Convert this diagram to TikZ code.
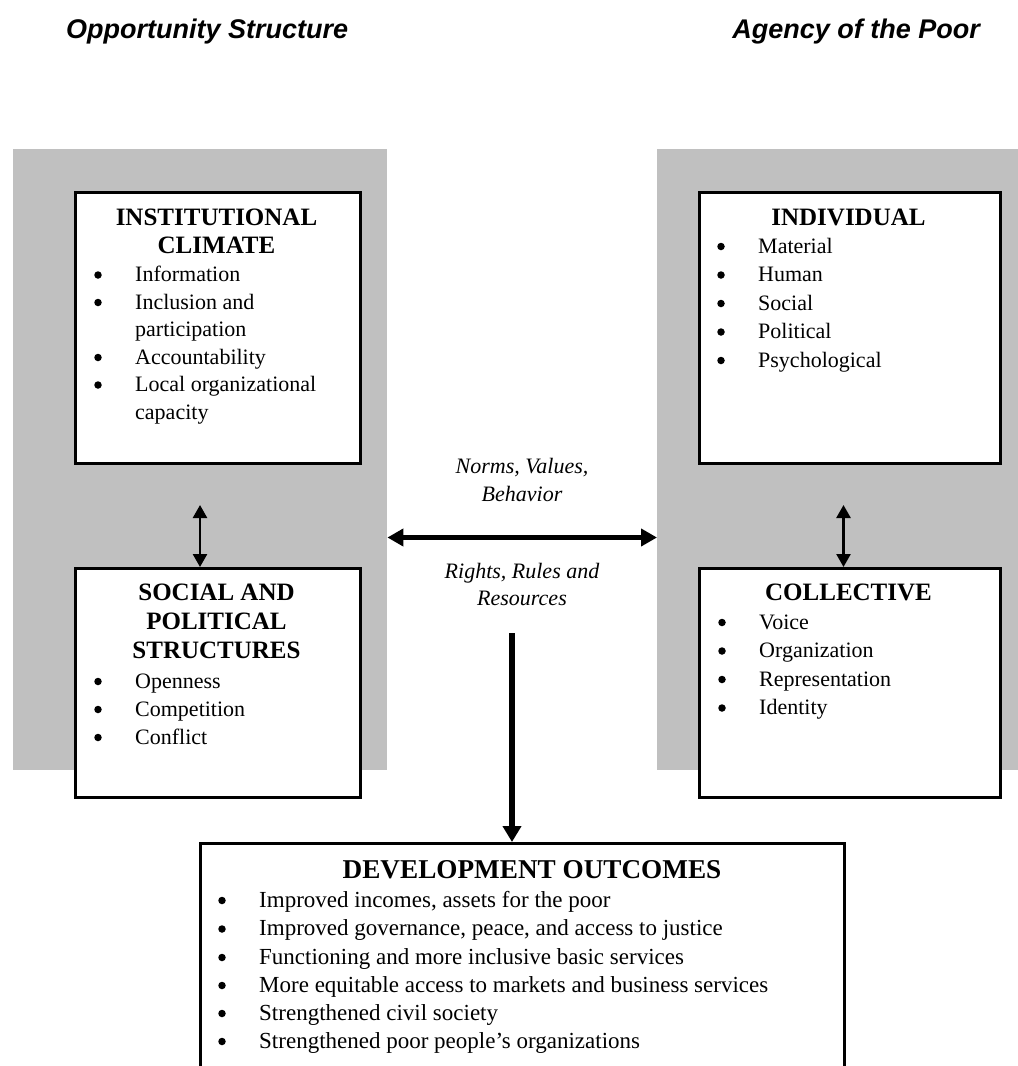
\documentclass[tikz,border=0pt]{standalone}
\usepackage{fontspec}
\setmainfont{Liberation Serif}
\newfontfamily\hdrfont{Liberation Sans}
\usetikzlibrary{arrows.meta}
\definecolor{panelgray}{RGB}{192,192,192}
\tikzset{
  panel/.style={fill=panelgray, draw=none, inner sep=0pt, anchor=north west},
  box/.style={fill=white, draw=black, line width=2.5bp, inner sep=0pt, anchor=north west},
  hdr/.style={inner sep=0pt, font=\hdrfont\bfseries\itshape\fontsize{27bp}{30bp}\selectfont},
  ttl/.style={inner sep=0pt, anchor=base, font=\bfseries\fontsize{25bp}{28bp}\selectfont},
  bigttl/.style={inner sep=0pt, anchor=base, font=\bfseries\fontsize{27.2bp}{30bp}\selectfont},
  itm/.style={inner sep=0pt, anchor=base west, font=\fontsize{22bp}{28bp}\selectfont},
  bigitm/.style={inner sep=0pt, anchor=base west, font=\fontsize{23bp}{28bp}\selectfont},
  bul/.style={circle, fill=black, draw=none, inner sep=0pt, minimum size=7.5bp},
  mid/.style={inner sep=0pt, anchor=base, font=\itshape\fontsize{22bp}{28bp}\selectfont},
  dbl/.style={line width=2.5bp, {Triangle[length=13bp,width=14bp]}-{Triangle[length=13bp,width=14bp]}},
  hbl/.style={line width=5bp, {Triangle[length=16bp,width=17bp]}-{Triangle[length=16bp,width=17bp]}},
  down/.style={line width=6bp, -{Triangle[length=16bp,width=18bp]}}
}
% bulleted item: style, name, position, text
\newcommand\bitem[4]{%
  \node[#1] (#2) at (#3) {#4};
  \node[bul] (#2b) at ([xshift=-37bp,yshift=6.5bp]#2.base west) {};}
\begin{document}
\begin{tikzpicture}[x=1bp,y=-1bp]
\useasboundingbox (0,0) rectangle (1018,1066);
\clip (0,0) rectangle (1018,1066);
\fill[white] (0,0) rectangle (1018,1066);

% headers
\node[hdr, anchor=base west] (hl) at (66,38) {Opportunity Structure};
\node[hdr, anchor=base east] (hr) at (980,38) {Agency of the Poor};

% gray panels
\node[panel, minimum width=374bp, minimum height=621bp] (lp) at (13,149) {};
\node[panel, minimum width=380bp, minimum height=621bp] (rp) at (657,149) {};

% boxes
\node[box, minimum width=285bp, minimum height=271bp] (ic) at (74,191) {};
\node[box, minimum width=285bp, minimum height=229bp] (sp) at (74,567) {};
\node[box, minimum width=301bp, minimum height=271bp] (ind) at (698,191) {};
\node[box, minimum width=301bp, minimum height=229bp] (col) at (698,567) {};
\node[box, minimum width=644bp, minimum height=260bp] (do) at (199,842) {};

% institutional climate
\node[ttl] (ict1) at (216.5,225.5) {INSTITUTIONAL};
\node[ttl] (ict2) at (216.5,253) {CLIMATE};
\bitem{itm}{ic1}{135,281.5}{Information}
\bitem{itm}{ic2}{135,309}{Inclusion and}
\node[itm] (ic3) at (135,336.5) {participation};
\bitem{itm}{ic4}{135,364}{Accountability}
\bitem{itm}{ic5}{135,391.5}{Local organizational}
\node[itm] (ic6) at (135,419) {capacity};

% social and political
\node[ttl] (spt1) at (216.5,600) {SOCIAL AND};
\node[ttl] (spt2) at (216.5,629) {POLITICAL};
\node[ttl] (spt3) at (216.5,658) {STRUCTURES};
\bitem{itm}{sp1}{135,688}{Openness}
\bitem{itm}{sp2}{135,716}{Competition}
\bitem{itm}{sp3}{135,744}{Conflict}

% individual
\node[ttl] (indt) at (848.5,225) {INDIVIDUAL};
\bitem{itm}{in1}{758,253}{Material}
\bitem{itm}{in2}{758,281.5}{Human}
\bitem{itm}{in3}{758,310}{Social}
\bitem{itm}{in4}{758,338.5}{Political}
\bitem{itm}{in5}{758,367}{Psychological}

% collective
\node[ttl] (colt) at (848.5,600) {COLLECTIVE};
\bitem{itm}{co1}{759,629}{Voice}
\bitem{itm}{co2}{759,657.5}{Organization}
\bitem{itm}{co3}{759,686}{Representation}
\bitem{itm}{co4}{759,714.5}{Identity}

% middle labels
\node[mid] (m1) at (522,473) {Norms, Values,};
\node[mid] (m2) at (522,501) {Behavior};
\node[mid] (m3) at (522,578) {Rights, Rules and};
\node[mid] (m4) at (522,605) {Resources};

% development outcomes
\node[bigttl] (dot) at (532,878) {DEVELOPMENT OUTCOMES};
\bitem{bigitm}{do1}{259,907}{Improved incomes, assets for the poor}
\bitem{bigitm}{do2}{259,935.5}{Improved governance, peace, and access to justice}
\bitem{bigitm}{do3}{259,964}{Functioning and more inclusive basic services}
\bitem{bigitm}{do4}{259,992}{More equitable access to markets and business services}
\bitem{bigitm}{do5}{259,1020}{Strengthened civil society}
\bitem{bigitm}{do6}{259,1048}{Strengthened poor people's organizations}

% connectors
\coordinate (la) at (200,505);
\coordinate (ra) at (843.5,505);
\coordinate (hy) at (0,537.5);
\coordinate (dt) at (512,633);
\draw[dbl] (la) -- (la |- sp.north);
\draw[dbl] (ra) -- (ra |- col.north);
\draw[hbl] (lp.east |- hy) -- (rp.west |- hy);
\draw[down] (dt) -- (dt |- do.north);
\end{tikzpicture}
\end{document}
